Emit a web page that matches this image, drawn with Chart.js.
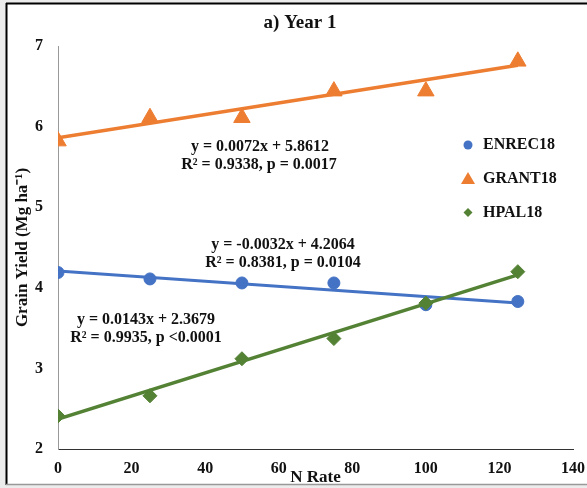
<!DOCTYPE html>
<html lang="en">
<head>
    <meta charset="UTF-8">
    <title>a) Year 1</title>
    <script src="https://cdn.jsdelivr.net/npm/chart.js"></script>
    <style>
        body { margin: 0; background: #ececec; }
    </style>
</head>
<body>
    <canvas id="chartCanvas" width="587" height="488"></canvas>

    <script>
        // data
        const nRate = [0, 25, 50, 75, 100, 125];
        const enrec18 = [4.19, 4.11, 4.06, 4.06, 3.79, 3.83];
        const grant18 = [5.82, 6.11, 6.11, 6.44, 6.44, 6.81];
        const hpal18 = [2.41, 2.66, 3.12, 3.37, 3.81, 4.20];

        // fitted trend lines, value at first and last N rate
        const trendX = [0, 125];
        const enrecTrend = [4.21, 3.81];
        const grantTrend = [5.86, 6.76];
        const hpalTrend = [2.37, 4.16];

        const xTicks = [0, 20, 40, 60, 80, 100, 120, 140];
        const yTicks = [2, 3, 4, 5, 6, 7];

        const BLUE = '#4472c4';
        const ORANGE = '#ed7d31';
        const GREEN = '#548235';
        const FONT = '"Liberation Serif", "Times New Roman", serif';

        Chart.defaults.font.family = FONT;
        Chart.defaults.font.weight = 'bold';
        Chart.defaults.color = '#111';

        const pts = (xs, ys) => xs.map((x, i) => ({ x: x, y: ys[i] }));

        // frame, title, equations and legend drawn on the canvas
        const decor = {
            id: 'decor',
            beforeDraw(chart) {
                const c = chart.ctx;
                c.save();
                c.fillStyle = '#ececec';
                c.fillRect(0, 0, 587, 488);
                c.fillStyle = '#fff';
                c.fillRect(7, 4, 580, 480);
                c.strokeStyle = '#000';
                c.lineWidth = 2;
                c.beginPath();
                c.moveTo(6, 3.5); c.lineTo(587, 3.5);
                c.moveTo(6.5, 3); c.lineTo(6.5, 485);
                c.stroke();
                c.strokeStyle = '#999';
                c.lineWidth = 1.5;
                c.beginPath();
                c.moveTo(6, 484.5); c.lineTo(587, 484.5);
                c.stroke();
                c.restore();
            },
            afterDraw(chart) {
                const c = chart.ctx;
                c.save();
                c.fillStyle = '#111';
                c.textAlign = 'center';
                c.textBaseline = 'middle';
                c.font = 'bold 19px ' + FONT;
                c.fillText('a) Year 1', 300, 23);

                c.font = 'bold 16px ' + FONT;
                c.fillText('y = 0.0072x + 5.8612', 260, 147);
                c.fillText('R\u00b2 = 0.9338, p = 0.0017', 259, 165);
                c.fillText('y = -0.0032x + 4.2064', 283, 245);
                c.fillText('R\u00b2 = 0.8381, p = 0.0104', 283, 263);
                c.fillText('y = 0.0143x + 2.3679', 146, 320);
                c.fillText('R\u00b2 = 0.9935, p <0.0001', 146, 338);

                // legend
                const lx = 468;
                c.textAlign = 'left';
                c.fillStyle = BLUE;
                c.beginPath();
                c.arc(lx, 145, 4.5, 0, Math.PI * 2);
                c.fill();
                c.fillStyle = ORANGE;
                c.beginPath();
                c.moveTo(lx, 172); c.lineTo(lx + 7, 184); c.lineTo(lx - 7, 184);
                c.closePath();
                c.fill();
                c.fillStyle = GREEN;
                c.beginPath();
                c.moveTo(lx, 208); c.lineTo(lx + 4.5, 212.5); c.lineTo(lx, 217); c.lineTo(lx - 4.5, 212.5);
                c.closePath();
                c.fill();
                c.fillStyle = '#111';
                c.fillText('ENREC18', 483, 145);
                c.fillText('GRANT18', 483, 179);
                c.fillText('HPAL18', 483, 213);
                c.restore();
            }
        };

        const ctx = document.getElementById('chartCanvas').getContext('2d');
        const chart = new Chart(ctx, {
            type: 'scatter',
            data: {
                datasets: [
                    { label: 'HPAL18 trend', data: pts(trendX, hpalTrend), showLine: true, borderColor: GREEN, borderWidth: 3.5, pointRadius: 0, order: 0 },
                    { label: 'HPAL18', data: pts(nRate, hpal18), pointStyle: 'rectRot', pointRadius: 7, backgroundColor: GREEN, borderColor: GREEN, order: 1 },
                    { label: 'GRANT18 trend', data: pts(trendX, grantTrend), showLine: true, borderColor: ORANGE, borderWidth: 3.5, pointRadius: 0, order: 2 },
                    { label: 'GRANT18', data: pts(nRate, grant18), pointStyle: 'triangle', pointRadius: 9.5, backgroundColor: ORANGE, borderColor: ORANGE, order: 3 },
                    { label: 'ENREC18 trend', data: pts(trendX, enrecTrend), showLine: true, borderColor: BLUE, borderWidth: 3, pointRadius: 0, order: 4 },
                    { label: 'ENREC18', data: pts(nRate, enrec18), pointStyle: 'circle', pointRadius: 6, backgroundColor: BLUE, borderColor: BLUE, order: 5 }
                ]
            },
            options: {
                responsive: false,
                animation: false,
                layout: { padding: { left: 10, right: 14, top: 46, bottom: 0 } },
                plugins: {
                    legend: { display: false },
                    tooltip: { enabled: false }
                },
                scales: {
                    x: {
                        type: 'linear',
                        min: 0,
                        max: 140,
                        afterBuildTicks: (s) => { s.ticks = xTicks.map(v => ({ value: v })); },
                        afterFit: (s) => { s.height = 39; s.paddingLeft = 0; s.paddingRight = 0; },
                        grid: { display: false, drawTicks: false },
                        border: { display: true, color: '#333', width: 1 },
                        ticks: { padding: 10, font: { size: 16, weight: 'bold' }, color: '#111' },
                        title: { display: true, text: 'N Rate', font: { size: 17, weight: 'bold' }, color: '#111', padding: { top: 0, bottom: 0 } }
                    },
                    y: {
                        type: 'linear',
                        min: 2,
                        max: 7,
                        afterBuildTicks: (s) => { s.ticks = yTicks.map(v => ({ value: v })); },
                        afterFit: (s) => { s.width = 48; },
                        grid: { display: false, drawTicks: false },
                        border: { display: true, color: '#999', width: 1 },
                        ticks: { padding: 15, font: { size: 16, weight: 'bold' }, color: '#111' },
                        title: { display: true, text: 'Grain Yield (Mg ha\u207b\u00b9)', font: { size: 17, weight: 'bold' }, color: '#111', padding: { top: 2, bottom: 0 } }
                    }
                }
            },
            plugins: [decor]
        });
    </script>
</body>
</html>
